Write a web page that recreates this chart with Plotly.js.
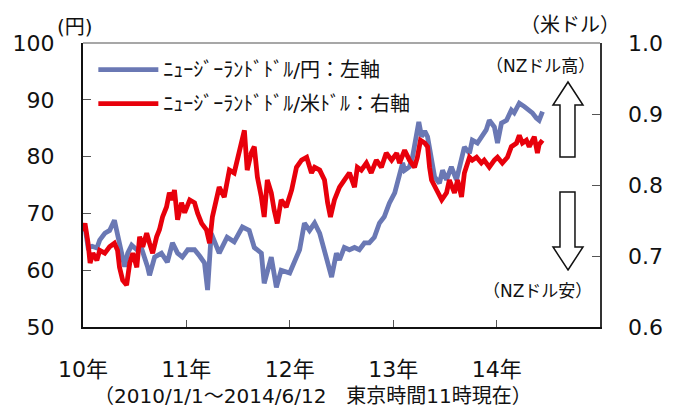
<!DOCTYPE html>
<html>
<head>
<meta charset="utf-8">
<script src="https://cdn.plot.ly/plotly-3.0.1.min.js"></script>
<style>html,body{margin:0;padding:0;background:#fff;}#chart{width:680px;height:410px;}</style>
</head>
<body>
<div id="chart"></div>
<script>
// NZD/JPY (left axis, yen)
const jpyDates = ['2010-01-01','2010-01-08','2010-01-19','2010-02-02','2010-02-19','2010-03-01','2010-03-19','2010-04-05','2010-04-22','2010-05-03','2010-05-17','2010-05-28','2010-06-08','2010-06-22','2010-07-10','2010-07-27','2010-08-17','2010-08-24','2010-09-11','2010-10-05','2010-10-26','2010-11-13','2010-12-01','2010-12-18','2011-01-06','2011-01-30','2011-02-17','2011-03-06','2011-03-17','2011-03-30','2011-04-27','2011-05-25','2011-06-19','2011-07-18','2011-08-11','2011-08-29','2011-09-23','2011-10-03','2011-10-28','2011-11-15','2011-12-02','2012-01-01','2012-02-05','2012-02-22','2012-03-11','2012-03-29','2012-04-16','2012-05-03','2012-05-21','2012-05-28','2012-06-14','2012-06-25','2012-07-12','2012-07-30','2012-08-17','2012-09-03','2012-09-21','2012-10-08','2012-10-26','2012-11-13','2012-11-30','2012-12-18','2013-01-06','2013-01-23','2013-02-03','2013-02-10','2013-02-27','2013-03-10','2013-03-24','2013-04-01','2013-04-11','2013-04-22','2013-05-02','2013-05-16','2013-05-27','2013-06-13','2013-06-24','2013-07-08','2013-07-25','2013-08-12','2013-08-30','2013-09-09','2013-09-27','2013-10-07','2013-10-25','2013-11-11','2013-11-25','2013-12-06','2013-12-24','2014-01-04','2014-01-18','2014-02-05','2014-02-22','2014-03-04','2014-03-22','2014-04-09','2014-04-26','2014-05-07','2014-05-21','2014-05-31','2014-06-12'];
const jpyValues = [68.0,67.6,64.0,64.2,63.9,65.3,66.5,67.0,68.8,66.5,63.0,60.6,63.0,64.4,63.6,63.8,60.6,59.1,62.3,63.0,61.4,64.8,63.0,62.3,63.6,63.6,62.5,61.3,56.5,66.5,63.0,65.8,65.0,67.6,67.0,64.0,63.0,57.7,62.3,57.0,60.0,59.5,63.6,68.3,67.0,68.3,66.5,63.6,60.0,58.8,63.0,61.8,64.0,63.6,64.0,63.6,64.8,64.8,65.8,68.3,69.4,71.8,73.6,76.4,78.9,77.6,78.2,80.0,83.5,86.1,83.5,84.5,83.5,78.9,76.4,75.3,77.6,75.9,78.2,75.9,79.4,81.7,80.6,82.9,82.4,83.8,84.7,86.4,85.2,82.4,85.9,86.4,88.2,87.7,89.4,88.8,88.2,87.7,86.8,86.4,87.9];

// NZD/USD (right axis, US dollar)
const usdDates = ['2010-01-01','2010-01-08','2010-01-19','2010-01-26','2010-02-05','2010-02-19','2010-03-01','2010-03-19','2010-04-05','2010-04-22','2010-05-03','2010-05-10','2010-05-21','2010-06-04','2010-06-15','2010-06-26','2010-07-10','2010-07-20','2010-07-31','2010-08-14','2010-08-24','2010-09-04','2010-09-18','2010-09-28','2010-10-09','2010-10-23','2010-11-02','2010-11-13','2010-11-20','2010-12-01','2010-12-15','2010-12-26','2011-01-13','2011-01-30','2011-02-10','2011-02-24','2011-03-13','2011-03-24','2011-04-03','2011-04-17','2011-04-27','2011-05-15','2011-06-02','2011-06-19','2011-06-30','2011-07-14','2011-07-25','2011-08-04','2011-08-18','2011-08-29','2011-09-09','2011-09-23','2011-10-03','2011-10-14','2011-10-28','2011-11-07','2011-11-18','2011-12-02','2011-12-20','2012-01-08','2012-01-25','2012-02-12','2012-03-01','2012-03-18','2012-03-29','2012-04-16','2012-05-03','2012-05-14','2012-05-24','2012-06-07','2012-06-25','2012-07-12','2012-07-30','2012-08-17','2012-08-27','2012-09-10','2012-09-28','2012-10-15','2012-11-02','2012-11-20','2012-12-07','2012-12-26','2013-01-13','2013-01-23','2013-02-10','2013-02-27','2013-03-17','2013-03-27','2013-04-07','2013-04-22','2013-05-02','2013-05-09','2013-05-16','2013-06-03','2013-06-21','2013-07-08','2013-07-18','2013-08-05','2013-08-16','2013-08-30','2013-09-09','2013-09-27','2013-10-07','2013-10-22','2013-11-08','2013-11-18','2013-12-06','2013-12-24','2014-01-04','2014-01-21','2014-02-08','2014-02-22','2014-03-12','2014-03-22','2014-04-02','2014-04-16','2014-04-26','2014-05-14','2014-05-25','2014-05-31','2014-06-12'];
const usdValues = [0.735,0.746,0.718,0.690,0.704,0.694,0.708,0.704,0.713,0.718,0.708,0.684,0.666,0.659,0.690,0.704,0.684,0.727,0.713,0.732,0.718,0.704,0.727,0.737,0.755,0.769,0.789,0.779,0.793,0.751,0.775,0.761,0.779,0.775,0.760,0.746,0.737,0.718,0.755,0.779,0.797,0.783,0.821,0.817,0.835,0.859,0.877,0.821,0.845,0.854,0.811,0.783,0.755,0.807,0.789,0.765,0.746,0.779,0.769,0.793,0.825,0.835,0.839,0.817,0.825,0.821,0.807,0.775,0.755,0.779,0.797,0.807,0.817,0.797,0.825,0.821,0.831,0.817,0.835,0.825,0.845,0.835,0.845,0.831,0.849,0.835,0.825,0.839,0.863,0.859,0.854,0.825,0.807,0.793,0.779,0.789,0.807,0.789,0.807,0.783,0.817,0.839,0.835,0.839,0.831,0.835,0.825,0.835,0.839,0.831,0.839,0.854,0.859,0.870,0.859,0.863,0.854,0.868,0.845,0.857,0.863];

const xTickVals = ['2010-01-01','2011-01-01','2012-01-01','2013-01-01','2014-01-01'];
const xTickText = ['10年','11年','12年','13年','14年'];
const seriesNames = ['ﾆｭｰｼﾞｰﾗﾝﾄﾞﾄﾞﾙ/円：左軸','ﾆｭｰｼﾞｰﾗﾝﾄﾞﾄﾞﾙ/米ﾄﾞﾙ：右軸'];

const FONT = "'DejaVu Sans', 'Noto Sans CJK JP', sans-serif";

const traces = [
  {x: jpyDates, y: jpyValues, name: seriesNames[0], type: 'scatter', mode: 'lines',
   line: {color: '#6a78b4', width: 4.8}, yaxis: 'y', legendgroup: 'a'},
  {x: usdDates, y: usdValues, name: seriesNames[1], type: 'scatter', mode: 'lines',
   line: {color: '#e8000b', width: 4.8}, yaxis: 'y2', legendgroup: 'b'}
];

const layout = {
  width: 680, height: 410,
  margin: {l: 83, r: 80, t: 43, b: 83},
  paper_bgcolor: '#fff', plot_bgcolor: '#fff',
  font: {family: FONT, size: 20, color: '#111'},
  showlegend: true,
  legend: {x: 0.02, y: 0.975, xanchor: 'left', yanchor: 'top', bgcolor: 'rgba(0,0,0,0)',
           font: {size: 20, family: FONT, color: '#111'}, tracegroupgap: 5, itemwidth: 60},
  xaxis: {type: 'date', range: ['2010-01-01','2015-01-01'], tickvals: xTickVals, ticktext: xTickText,
          ticks: 'inside', ticklen: 7, tickcolor: '#555', tickwidth: 1, showgrid: false, zeroline: false,
          showline: true, linecolor: '#111', linewidth: 2, tickfont: {size: 22, family: FONT},
          ticklabelstandoff: 22, fixedrange: true},
  yaxis: {range: [50, 100], dtick: 10, tick0: 50, ticks: 'inside', ticklen: 8, tickcolor: '#555',
          showgrid: false, zeroline: false, showline: true, linecolor: '#111', linewidth: 2,
          tickfont: {size: 22, family: FONT}, ticklabelstandoff: 22},
  yaxis2: {range: [0.6, 1.0], dtick: 0.1, tick0: 0.6, tickformat: '.1f', overlaying: 'y', side: 'right',
           ticks: 'inside', ticklen: 8, tickcolor: '#555', showgrid: false, zeroline: false,
           showline: true, linecolor: '#333', linewidth: 1.5, tickfont: {size: 22, family: FONT},
           ticklabelstandoff: 22},
  shapes: [
    {type: 'line', xref: 'paper', yref: 'paper', x0: 0, x1: 1, y0: 1, y1: 1, line: {color: '#8a8a8a', width: 1.5}},
    {type: 'path', xref: 'paper', yref: 'paper',
     path: 'M0.9381,0.8627 L0.9671,0.7817 L0.9516,0.7817 L0.9516,0.5986 L0.9226,0.5986 L0.9226,0.7817 L0.9091,0.7817 Z',
     line: {color: '#111', width: 1.5}, fillcolor: '#fff'},
    {type: 'path', xref: 'paper', yref: 'paper',
     path: 'M0.9381,0.2007 L0.9671,0.2817 L0.9516,0.2817 L0.9516,0.4754 L0.9226,0.4754 L0.9226,0.2817 L0.9091,0.2817 Z',
     line: {color: '#111', width: 1.5}, fillcolor: '#fff'}
  ],
  annotations: [
    {text: '(円)', xref: 'paper', yref: 'paper', x: -0.0155, y: 1.0560, xanchor: 'center', yanchor: 'middle', showarrow: false, font: {size: 20, family: FONT}},
    {text: '（米ドル）', xref: 'paper', yref: 'paper', x: 0.942, y: 1.063, xanchor: 'center', yanchor: 'middle', showarrow: false, font: {size: 20, family: FONT}},
    {text: '（NZドル高）', xref: 'paper', yref: 'paper', x: 0.884, y: 0.919, xanchor: 'center', yanchor: 'middle', showarrow: false, font: {size: 17, family: FONT}},
    {text: '（NZドル安）', xref: 'paper', yref: 'paper', x: 0.880, y: 0.127, xanchor: 'center', yanchor: 'middle', showarrow: false, font: {size: 17, family: FONT}},
    {text: '（2010/1/1～2014/6/12　東京時間11時現在）', xref: 'paper', yref: 'paper', x: 0.445, y: -0.2430, xanchor: 'center', yanchor: 'middle', showarrow: false, font: {size: 20, family: FONT}}
  ]
};

Plotly.newPlot('chart', traces, layout, {displayModeBar: false, staticPlot: true});
</script>
</body>
</html>
